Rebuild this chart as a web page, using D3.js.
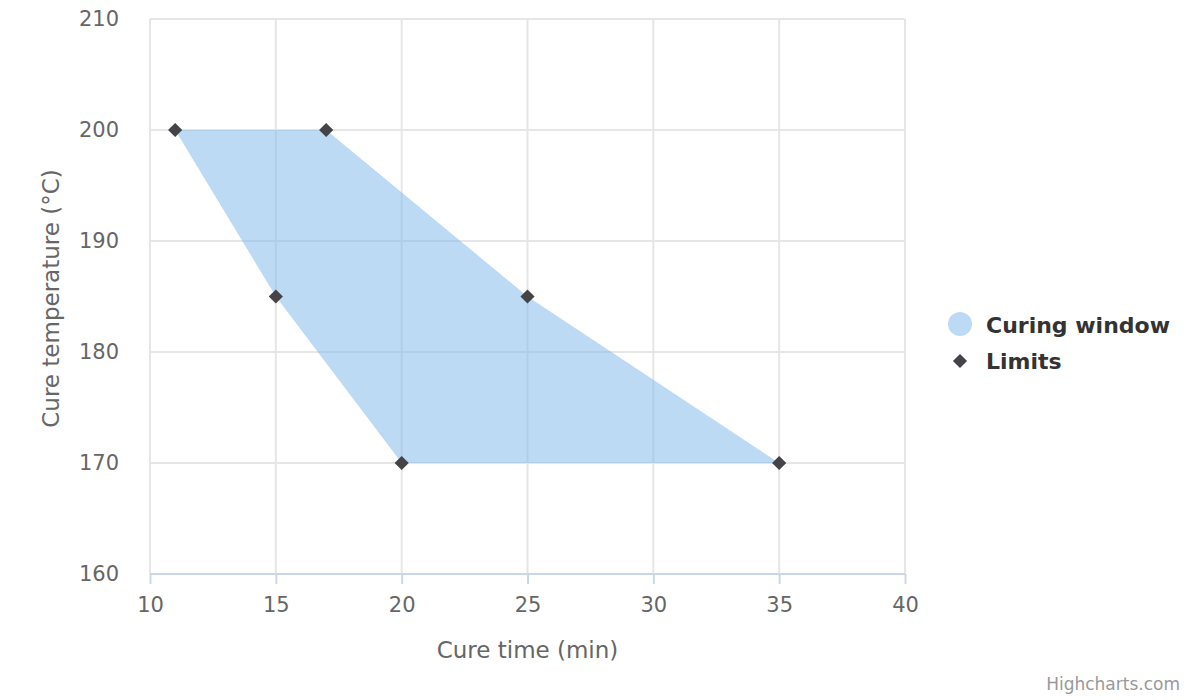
<!DOCTYPE html>
<html>
<head>
<meta charset="utf-8">
<script src="https://cdn.jsdelivr.net/npm/d3@7"></script>
<style>
  body { margin: 0; background: #fff; }
  text { font-family: "DejaVu Sans", sans-serif; }
</style>
</head>
<body>
<svg id="chart" width="1200" height="700"></svg>
<script>
(function () {
  'use strict';

  // curing window outline, in drawing order
  const windowTimes = [11, 17, 25, 35, 20, 15];
  const windowTemps = [200, 200, 185, 170, 170, 185];

  const xTicks = [10, 15, 20, 25, 30, 35, 40];
  const yTicks = [160, 170, 180, 190, 200, 210];

  const legendNames = ['Curing window', 'Limits'];

  const svg = d3.select('#chart');
  const plot = { left: 150, right: 905, top: 19, bottom: 574 };

  const x = d3.scaleLinear().domain([10, 40]).range([plot.left, plot.right]);
  const y = d3.scaleLinear().domain([160, 210]).range([plot.bottom, plot.top]);

  const pts = windowTimes.map((t, i) => ({ t: t, c: windowTemps[i] }));

  // grid lines
  svg.append('g')
    .selectAll('line')
    .data(yTicks.filter(v => v !== 160))
    .join('line')
    .attr('x1', plot.left).attr('x2', plot.right)
    .attr('y1', d => y(d)).attr('y2', d => y(d))
    .attr('stroke', '#e6e6e6')
    .attr('stroke-width', 2);

  svg.append('g')
    .selectAll('line')
    .data(xTicks)
    .join('line')
    .attr('y1', plot.top).attr('y2', plot.bottom)
    .attr('x1', d => x(d)).attr('x2', d => x(d))
    .attr('stroke', '#e6e6e6')
    .attr('stroke-width', 2);

  // the window polygon
  svg.append('path')
    .datum(pts)
    .attr('d', d3.line().x(d => x(d.t)).y(d => y(d.c)).curve(d3.curveLinearClosed))
    .attr('fill', '#7cb5ec')
    .attr('fill-opacity', 0.5);

  // x axis
  const xAxis = svg.append('g')
    .attr('transform', `translate(0,${plot.bottom})`)
    .call(d3.axisBottom(x).tickValues(xTicks).tickSize(10).tickPadding(13).tickFormat(d3.format('d')));
  xAxis.select('.domain').attr('stroke', '#ccd6eb').attr('stroke-width', 2)
    .attr('d', `M${plot.left},0H${plot.right}`);
  xAxis.selectAll('.tick line').attr('stroke', '#ccd6eb').attr('stroke-width', 2);
  xAxis.selectAll('.tick text')
    .attr('fill', '#666666')
    .style('font-size', '21px');

  // y axis labels
  const yAxis = svg.append('g')
    .attr('transform', `translate(${plot.left},0)`)
    .call(d3.axisLeft(y).tickValues(yTicks).tickSize(0).tickPadding(31));
  yAxis.select('.domain').remove();
  yAxis.selectAll('.tick text')
    .attr('fill', '#666666')
    .style('font-size', '21px');

  // axis titles
  svg.append('text')
    .attr('x', (plot.left + plot.right) / 2)
    .attr('y', 658)
    .attr('text-anchor', 'middle')
    .attr('fill', '#666666')
    .style('font-size', '23px')
    .text('Cure time (min)');

  svg.append('text')
    .attr('transform', `translate(59,${(plot.top + plot.bottom) / 2 + 2}) rotate(-90)`)
    .attr('text-anchor', 'middle')
    .attr('fill', '#666666')
    .style('font-size', '23px')
    .text('Cure temperature (°C)');

  // limit markers
  const diamond = d3.symbol().type(d3.symbolDiamond2).size(128);
  svg.append('g')
    .selectAll('path')
    .data(pts)
    .join('path')
    .attr('transform', d => `translate(${x(d.t)},${y(d.c)})`)
    .attr('d', diamond)
    .attr('fill', '#434348');

  // legend
  const legend = svg.append('g').attr('transform', 'translate(960,0)');
  legend.append('circle')
    .attr('cx', 0).attr('cy', 324).attr('r', 12)
    .attr('fill', '#7cb5ec').attr('fill-opacity', 0.5);
  legend.append('path')
    .attr('transform', 'translate(0,361)')
    .attr('d', diamond)
    .attr('fill', '#434348');
  legend.selectAll('text.item')
    .data(legendNames)
    .join('text')
    .attr('class', 'item')
    .attr('x', 26)
    .attr('y', (d, i) => 333 + i * 36)
    .attr('fill', '#333333')
    .style('font-size', '22px')
    .style('font-weight', 'bold')
    .text(d => d);

  // credits
  svg.append('text')
    .attr('x', 1180).attr('y', 690)
    .attr('text-anchor', 'end')
    .attr('fill', '#999999')
    .style('font-size', '17px')
    .text('Highcharts.com');
})();
</script>
</body>
</html>
